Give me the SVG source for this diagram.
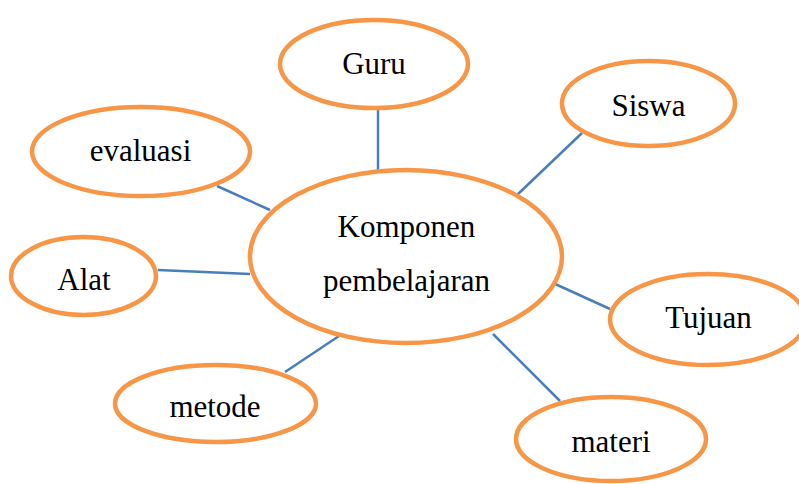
<svg xmlns="http://www.w3.org/2000/svg" width="799" height="484" viewBox="0 0 799 484">
  <style>
    .node ellipse { fill: #ffffff; stroke: #F79646; stroke-width: 4.5; }
    .node text { font-family: "Liberation Serif", serif; font-size: 31px; fill: #000000; text-anchor: middle; }
    #connectors line { stroke: #4A7EBB; stroke-width: 2.5; }
  </style>
  <rect width="799" height="484" fill="#ffffff"/>
  <g id="connectors">
    <line x1="378" y1="108" x2="378" y2="171"/>
    <line x1="582" y1="133" x2="517" y2="195"/>
    <line x1="217" y1="186" x2="270" y2="210"/>
    <line x1="158" y1="270" x2="250" y2="274"/>
    <line x1="553" y1="283" x2="610" y2="309"/>
    <line x1="285" y1="372" x2="342" y2="334"/>
    <line x1="493" y1="334" x2="560" y2="401"/>
  </g>
  <g id="komponen" class="node">
    <ellipse cx="406" cy="256.5" rx="156" ry="86.5"/>
    <text x="406.5" y="237">Komponen</text>
    <text x="406.5" y="291">pembelajaran</text>
  </g>
  <g id="guru" class="node">
    <ellipse cx="374" cy="64" rx="94" ry="44"/>
    <text x="374" y="74">Guru</text>
  </g>
  <g id="siswa" class="node">
    <ellipse cx="648.5" cy="103.5" rx="86.5" ry="42.5"/>
    <text x="648.5" y="116">Siswa</text>
  </g>
  <g id="evaluasi" class="node">
    <ellipse cx="141" cy="151.5" rx="109" ry="44.5"/>
    <text x="140.5" y="161">evaluasi</text>
  </g>
  <g id="alat" class="node">
    <ellipse cx="83.5" cy="276" rx="72.5" ry="39"/>
    <text x="84" y="290">Alat</text>
  </g>
  <g id="tujuan" class="node">
    <ellipse cx="708" cy="319.5" rx="98" ry="45.5"/>
    <text x="708.5" y="328">Tujuan</text>
  </g>
  <g id="metode" class="node">
    <ellipse cx="215.5" cy="403.5" rx="100.5" ry="38.5"/>
    <text x="215" y="417">metode</text>
  </g>
  <g id="materi" class="node">
    <ellipse cx="611" cy="439" rx="95" ry="42"/>
    <text x="611" y="452">materi</text>
  </g>
</svg>
